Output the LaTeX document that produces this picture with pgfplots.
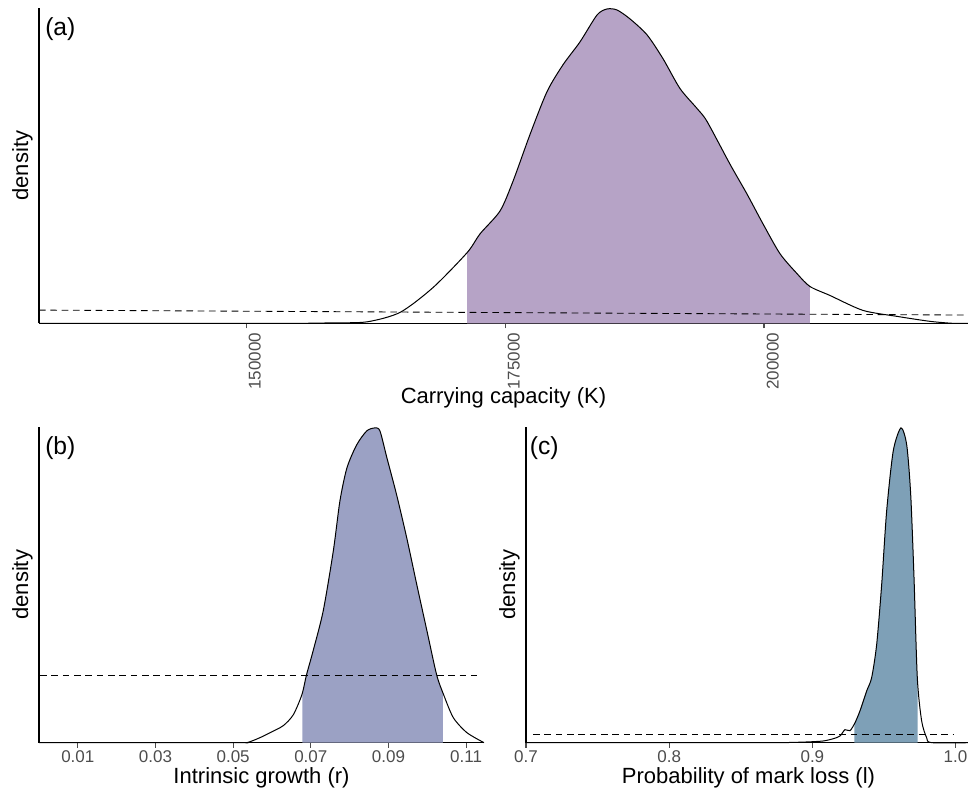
\documentclass[border=0pt]{standalone}
\usepackage{fontspec}
\setmainfont{Liberation Sans}
\usepackage{pgfplots}
\pgfplotsset{compat=1.18}
\usepgfplotslibrary{fillbetween}
\definecolor{fillA}{RGB}{182,163,198}
\definecolor{fillB}{RGB}{155,161,196}
\definecolor{fillC}{RGB}{126,160,183}
\definecolor{tickgray}{RGB}{77,77,77}
\tikzset{plab/.style={font=\fontsize{18.5}{21}\selectfont, anchor=base west, inner sep=0pt}}
\pgfplotsset{
  dens/.style={
    scale only axis,
    anchor=south west,
    axis lines*=left,
    axis line style={-, line width=0.9pt, black},
    ytick=\empty,
    ymin=0,
    tick align=outside,
    major tick length=3.75pt,
    xtick style={tickgray, line width=0.8pt},
    scaled x ticks=false,
    /pgf/number format/assume math mode=true,
    xticklabel style={font=\fontsize{12.75}{14}\selectfont, text=tickgray},
    label style={font=\fontsize{16.5}{19}\selectfont},
    ylabel={density},
    ylabel style={at={(axis description cs:0,0.5)}, anchor=center, yshift=12.4pt},
    xlabel style={at={(axis description cs:0.5,0)}, anchor=base, yshift=-31pt},
    clip=false,
  },
  curve/.style={black, line width=0.75pt, smooth, tension=0.45},
  prior/.style={black, line width=0.65pt, dash pattern=on 5pt off 3.5pt},
}
\begin{document}
\begin{tikzpicture}
% ---------------- (a)
\begin{axis}[dens,
  at={(29.25pt,351.5pt)}, width=696.75pt, height=236.5pt,
  xmin=130000, xmax=219700, ymax=317,
  xtick={150000,175000,200000},
  xticklabels={150000,175000,200000},
  xticklabel style={rotate=90, anchor=north east, yshift=1.5pt},
  xlabel={Carrying capacity (K)},
  xlabel style={yshift=-29pt},
]
\addplot[curve, name path=KA] coordinates {
(130000,0) (150000,0) (155212,0) (158398,0.5) (161680,1.5) (164866,11) (168051,36)
(171333,71) (172588,90) (174519,113) (175774,143) (177415,190) (179056,233)
(180600,260) (182241,283) (183882,310) (184847,316) (185813,315) (187068,306)
(188709,290) (190253,266) (191894,236) (193535,216) (194500,203) (196720,160)
(198361,130) (199906,100) (201547,70) (203188,50) (204443,37) (206374,28)
(209559,13) (212841,7) (216026,2) (218246,0) (219700,0)};
\addplot[draw=none, name path=BA] coordinates {(130000,0) (219700,0)};
\addplot[fillA] fill between[of=KA and BA, soft clip={(rel axis cs:0.4608,0) rectangle (rel axis cs:0.8299,1)}];
\addplot[prior] coordinates {(130000,13.3) (219700,8.3)};
\node[plab] at (axis description cs:0,1) [xshift=4.5pt, yshift=-21pt] {(a)};
\end{axis}
% ---------------- (b)
\begin{axis}[dens,
  at={(29.25pt,37pt)}, width=333.75pt, height=236.8pt,
  xmin=0, xmax=0.1146, ymax=316,
  xtick={0.01,0.03,0.05,0.07,0.09,0.11},
  xticklabels={0.01,0.03,0.05,0.07,0.09,0.11},
  xticklabel style={yshift=1.5pt},
  xlabel={Intrinsic growth (r)},
]
\addplot[curve, name path=KB] coordinates {
(0,0) (0.05,0) (0.0535,0) (0.0569,5) (0.0595,10) (0.0629,17) (0.0655,28) (0.0677,48)
(0.0689,68) (0.0706,92) (0.0732,132) (0.0758,192) (0.0775,242) (0.0793,275)
(0.0818,298) (0.0844,312) (0.0865,315) (0.0878,312) (0.0896,285) (0.0921,248)
(0.0947,205) (0.0973,158) (0.0999,112) (0.1024,68) (0.1042,48) (0.1067,25)
(0.1102,10) (0.1146,0)};
\addplot[draw=none, name path=BB] coordinates {(0,0) (0.1146,0)};
\addplot[fillB] fill between[of=KB and BB, soft clip={(rel axis cs:0.5916,0) rectangle (rel axis cs:0.9075,1)}];
\addplot[prior] coordinates {(0.0003,67) (0.1128,67)};
\node[plab] at (axis description cs:0,1) [xshift=4.5pt, yshift=-21pt] {(b)};
\end{axis}
% ---------------- (c)
\begin{axis}[dens,
  at={(394.5pt,37pt)}, width=333.75pt, height=236.8pt,
  xmin=0.7, xmax=1.0108, ymax=316,
  xtick={0.7,0.8,0.9,1.0},
  xticklabels={0.7,0.8,0.9,1.0},
  xticklabel style={yshift=1.5pt},
  xlabel={Probability of mark loss (l)},
]
\addplot[curve, name path=KC] coordinates {
(0.7,0) (0.85,0) (0.8775,0) (0.8961,0.7) (0.9077,1.7) (0.9147,4) (0.9193,6.7)
(0.9228,13) (0.9263,12) (0.9298,20) (0.9333,32) (0.9380,52) (0.9414,65)
(0.9449,98) (0.9484,158) (0.9519,232) (0.9565,292) (0.9619,315) (0.9659,298)
(0.9687,248) (0.9710,165) (0.9733,65) (0.9763,22) (0.9798,5) (0.9833,0) (1.0108,0)};
\addplot[draw=none, name path=BC] coordinates {(0.7,0) (1.0108,0)};
\addplot[fillC] fill between[of=KC and BC, soft clip={(rel axis cs:0.7378,0) rectangle (rel axis cs:0.8800,1)}];
\addplot[prior] coordinates {(0.705,8.4) (0.9985,8.4)};
\node[plab] at (axis description cs:0,1) [xshift=2.7pt, yshift=-21pt] {(c)};
\end{axis}
\pgfresetboundingbox
\useasboundingbox (0,0) rectangle (726pt,594pt);
\end{tikzpicture}
\end{document}
